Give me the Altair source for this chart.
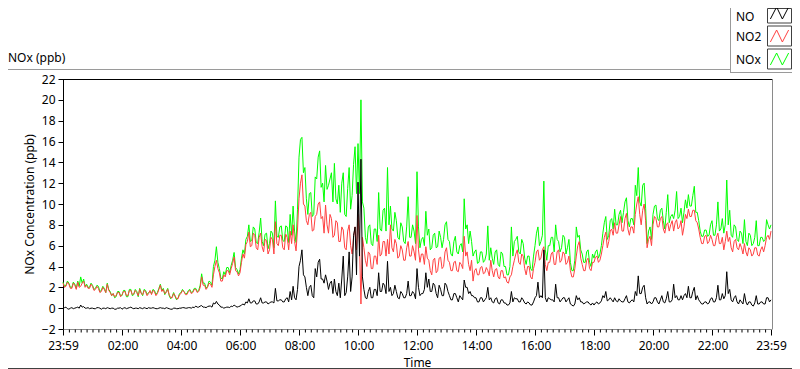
import altair as alt
import pandas as pd

# ---------------- data (one value every 3 minutes) -------------
STEP_H = 0.05  # hours between samples, starting at 23:59

NO2 = [
    2.4, 2.0, 2.1, 2.5, 2.3, 1.9, 1.9, 2.4, 2.2, 1.8, 2.5, 2.0, 2.1, 2.4, 2.6, 2.0, 2.2, 1.9, 1.9, 2.3,
    2.1, 1.7, 1.8, 2.1, 1.9, 1.5, 1.6, 2.0, 1.8, 1.5, 2.3, 1.7, 1.5, 1.2, 1.4, 1.1, 1.2, 1.5, 1.5, 1.1,
    1.3, 1.6, 1.6, 1.2, 1.2, 1.7, 1.7, 1.3, 1.4, 1.7, 1.5, 1.2, 1.8, 1.4, 1.3, 1.7, 1.6, 1.2, 1.4, 1.7,
    1.3, 1.7, 1.6, 1.2, 1.4, 1.8, 2.2, 1.6, 1.8, 1.4, 1.5, 1.8, 1.3, 1.0, 1.0, 1.4, 1.2, 0.9, 0.9, 1.3,
    1.4, 1.7, 1.6, 1.3, 1.3, 1.6, 1.7, 1.4, 1.5, 1.8, 1.8, 1.5, 1.6, 2.0, 3.0, 2.2, 2.2, 1.8, 2.0, 2.4,
    2.3, 2.0, 3.2, 4.0, 4.6, 3.8, 3.4, 2.6, 2.6, 3.2, 3.0, 3.6, 3.6, 3.2, 3.8, 4.3, 4.9, 3.6, 3.5, 3.1,
    3.4, 4.4, 5.2, 4.8, 6.1, 6.4, 7.3, 5.9, 6.0, 7.2, 7.0, 5.8, 5.6, 6.8, 7.2, 5.9, 5.4, 6.6, 6.5, 5.2,
    5.6, 6.8, 6.6, 5.2, 8.3, 6.2, 6.0, 7.0, 7.0, 5.8, 5.6, 7.1, 6.8, 5.6, 7.4, 6.2, 8.0, 6.4, 5.5, 7.6,
    10.5, 12.0, 12.8, 10.0, 9.8, 8.4, 8.0, 9.0, 9.2, 7.4, 7.5, 8.8, 9.0, 10.0, 10.2, 8.6, 8.8, 7.2, 9.9, 8.0,
    7.2, 9.0, 8.6, 6.8, 7.0, 8.4, 8.2, 6.4, 6.4, 7.8, 7.5, 5.8, 5.6, 7.4, 8.0, 6.0, 5.2, 6.8, 7.8, 5.6,
    9.0, 6.2, 0.4, 6.8, 5.8, 4.6, 4.0, 5.4, 5.2, 3.8, 3.8, 5.0, 5.0, 4.2, 7.0, 5.0, 5.2, 6.4, 6.4, 5.0,
    6.6, 5.2, 8.0, 5.8, 5.4, 6.6, 6.2, 4.8, 5.0, 6.0, 5.6, 4.6, 4.6, 5.8, 6.4, 5.0, 5.0, 6.0, 5.4, 4.6,
    8.9, 5.6, 4.4, 5.2, 5.2, 4.2, 5.9, 4.8, 4.6, 3.6, 3.2, 4.6, 4.8, 3.4, 3.6, 4.8, 4.9, 3.8, 4.0, 5.4,
    5.8, 4.6, 4.4, 3.6, 3.6, 4.4, 4.5, 3.6, 3.5, 4.4, 4.2, 3.8, 6.9, 5.0, 5.4, 4.2, 3.6, 4.6, 2.6, 3.6,
    3.8, 3.2, 3.2, 3.9, 4.0, 3.3, 3.4, 3.9, 3.6, 3.1, 4.6, 3.6, 3.0, 3.7, 3.8, 3.0, 2.8, 3.6, 3.6, 2.9,
    3.0, 2.5, 2.4, 3.0, 3.2, 4.0, 4.6, 5.2, 5.6, 4.4, 4.2, 5.2, 5.0, 3.8, 3.2, 4.0, 4.0, 3.0, 2.8, 3.8,
    4.4, 5.4, 5.6, 4.6, 4.8, 5.6, 5.9, 4.2, 3.6, 4.4, 4.4, 5.2, 5.4, 4.2, 4.2, 5.4, 5.6, 4.4, 4.6, 5.4,
    5.2, 4.2, 4.4, 5.0, 3.6, 3.0, 3.0, 3.8, 5.0, 6.0, 6.4, 4.8, 4.2, 3.6, 3.6, 4.6, 4.8, 3.8, 3.6, 4.4,
    4.4, 4.9, 5.0, 4.4, 4.6, 5.2, 6.0, 6.8, 7.3, 5.8, 6.4, 7.4, 7.6, 7.0, 8.2, 7.2, 7.2, 8.0, 8.8, 7.4,
    7.4, 8.6, 9.1, 7.6, 7.0, 7.8, 7.8, 7.2, 9.0, 10.0, 10.7, 9.0, 8.0, 9.4, 10.0, 8.4, 5.8, 6.6, 6.9, 6.0,
    8.0, 8.8, 8.6, 7.8, 7.8, 8.6, 8.8, 7.6, 7.2, 8.0, 8.2, 7.4, 8.0, 8.4, 7.4, 8.2, 8.5, 7.6, 7.8, 8.4,
    7.0, 7.8, 9.0, 8.6, 9.5, 8.8, 8.8, 9.4, 9.4, 8.4, 8.2, 7.6, 6.8, 6.2, 6.2, 6.9, 7.0, 6.2, 6.4, 7.0,
    6.6, 6.0, 6.0, 6.8, 7.2, 6.2, 6.2, 6.8, 5.6, 6.4, 7.4, 6.4, 6.8, 5.8, 5.4, 6.4, 6.6, 5.8, 5.6, 6.2,
    5.8, 5.2, 6.2, 5.4, 5.0, 5.8, 5.6, 5.0, 5.2, 5.8, 5.8, 5.1, 5.0, 5.6, 5.9, 5.4, 6.0, 6.8, 7.0, 6.6, 7.4,
]

NOX = [
    2.5, 2.1, 2.2, 2.6, 2.4, 2.0, 2.0, 2.5, 2.3, 1.9, 2.6, 2.1, 3.0, 2.4, 2.8, 2.1, 2.3, 2.0, 2.0, 2.4,
    2.2, 1.8, 1.9, 2.2, 2.1, 1.6, 1.7, 2.1, 1.9, 1.5, 2.4, 1.8, 1.6, 1.2, 1.4, 1.0, 1.1, 1.6, 1.6, 1.2,
    1.2, 1.7, 1.7, 1.1, 1.1, 1.8, 1.8, 1.2, 1.3, 1.8, 1.6, 1.1, 1.9, 1.5, 1.2, 1.8, 1.7, 1.3, 1.5, 1.6,
    1.4, 1.8, 1.7, 1.3, 1.5, 1.9, 2.3, 1.7, 1.9, 1.3, 1.6, 1.9, 1.2, 0.9, 1.1, 1.5, 1.1, 0.8, 1.0, 1.4,
    1.5, 1.8, 1.6, 1.4, 1.4, 1.7, 1.8, 1.5, 1.6, 1.9, 1.9, 1.6, 1.7, 2.2, 3.3, 2.4, 2.4, 1.9, 2.1, 2.6,
    2.5, 2.2, 4.0, 4.6, 5.9, 4.4, 3.8, 2.9, 2.8, 3.5, 3.2, 3.9, 3.9, 3.4, 4.1, 4.6, 5.35, 3.9, 3.7, 3.3,
    3.7, 4.8, 5.6, 5.2, 6.6, 6.9, 8.0, 6.4, 6.5, 7.8, 7.6, 6.3, 6.2, 7.3, 8.65, 6.4, 6.0, 7.1, 7.2, 5.7,
    6.2, 7.4, 7.2, 5.8, 10.3, 6.9, 6.8, 7.8, 7.9, 6.5, 6.4, 7.9, 7.8, 6.3, 9.0, 7.0, 9.8, 7.4, 6.3, 9.5,
    14.5, 16.2, 16.4, 13.0, 13.5, 10.5, 9.0, 11.0, 11.1, 8.8, 9.0, 12.6, 12.4, 14.5, 15.1, 11.6, 12.0, 10.2, 13.7, 11.4,
    11.8, 12.4, 13.0, 10.2, 13.9, 10.5, 10.0, 11.8, 9.2, 12.0, 13.0, 9.0, 8.8, 11.5, 13.5, 9.5, 10.8, 13.8, 15.5, 11.0,
    15.8, 11.0, 20.0, 10.2, 9.6, 6.8, 6.2, 7.8, 8.0, 6.2, 6.0, 7.6, 7.6, 6.4, 11.1, 7.6, 7.4, 9.4, 9.6, 7.4,
    13.5, 8.0, 9.8, 7.6, 7.4, 9.2, 8.4, 6.8, 6.6, 8.2, 7.8, 6.4, 6.2, 7.8, 10.7, 6.8, 6.8, 8.0, 7.4, 6.2,
    13.1, 7.8, 5.8, 6.6, 6.8, 6.0, 9.3, 7.0, 7.6, 5.6, 5.8, 7.0, 7.2, 5.8, 5.9, 7.4, 6.8, 5.8, 6.6, 8.0,
    8.3, 6.6, 6.4, 5.2, 5.0, 6.4, 6.9, 5.4, 5.2, 6.0, 6.2, 5.4, 10.5, 7.6, 8.0, 6.2, 7.4, 6.4, 5.0, 5.4,
    5.6, 4.3, 4.4, 5.4, 5.4, 4.4, 4.6, 5.2, 7.9, 4.6, 5.8, 4.8, 4.2, 5.4, 5.6, 4.2, 4.0, 5.4, 5.2, 4.0,
    4.0, 3.2, 3.2, 4.0, 7.8, 5.0, 6.4, 6.6, 6.9, 5.4, 5.2, 6.6, 6.2, 4.8, 4.2, 5.0, 5.0, 3.8, 3.6, 5.0,
    6.0, 7.2, 7.8, 6.0, 6.4, 7.0, 12.2, 5.6, 4.6, 6.0, 6.0, 6.8, 6.8, 5.4, 8.0, 6.6, 6.4, 5.4, 5.8, 7.0,
    6.8, 5.2, 5.8, 6.6, 4.4, 3.6, 3.6, 4.6, 7.8, 6.8, 7.0, 5.6, 5.2, 4.4, 4.4, 5.4, 5.6, 4.4, 4.0, 5.2,
    4.8, 5.4, 5.6, 4.8, 5.2, 6.0, 7.2, 8.2, 8.8, 6.6, 7.0, 8.4, 8.6, 7.6, 9.5, 8.0, 8.0, 9.0, 9.4, 8.2,
    9.2, 10.2, 10.6, 8.4, 7.8, 8.6, 8.6, 8.0, 11.8, 10.8, 13.5, 10.2, 9.8, 11.8, 12.0, 9.6, 6.2, 7.4, 7.8, 6.6,
    9.0, 9.8, 9.9, 8.6, 8.4, 9.4, 9.6, 8.4, 7.6, 9.2, 10.9, 8.2, 8.8, 9.0, 8.6, 9.4, 11.2, 8.6, 8.8, 9.6,
    8.2, 9.2, 10.4, 9.6, 10.9, 9.8, 9.8, 10.8, 11.7, 9.2, 9.2, 8.4, 7.4, 6.9, 6.9, 7.5, 7.5, 6.9, 7.0, 8.0,
    8.4, 7.0, 7.0, 8.0, 10.2, 7.4, 7.6, 8.6, 7.2, 8.0, 12.3, 8.0, 9.4, 7.0, 6.8, 8.0, 7.8, 6.6, 6.4, 7.4,
    7.2, 6.2, 8.5, 6.4, 6.0, 7.2, 7.0, 6.0, 6.2, 6.8, 8.4, 6.0, 6.0, 6.8, 6.8, 6.4, 6.6, 8.5, 8.0, 7.6, 8.0,
]

NO = [
    0.0, 0.05, 0.1, -0.05, -0.1, 0.0, 0.05, -0.05, 0.0, 0.05, 0.1, 0.0, 0.3, 0.1, 0.15, 0.0, 0.0, 0.05, -0.05, 0.0,
    0.0, -0.05, -0.05, 0.05, 0.05, 0.0, -0.1, 0.0, 0.0, -0.05, 0.05, 0.0, -0.05, 0.0, 0.0, -0.1, -0.1, 0.0, 0.0, 0.05,
    -0.1, 0.0, 0.05, -0.05, 0.0, 0.05, 0.1, 0.0, -0.05, 0.0, 0.0, -0.05, 0.05, 0.0, -0.05, 0.05, 0.0, -0.05, 0.05, 0.0,
    0.0, 0.05, 0.0, -0.05, -0.05, 0.0, 0.05, 0.0, 0.0, -0.05, 0.05, 0.0, -0.05, -0.1, -0.1, 0.0, 0.0, -0.05, -0.05, 0.0,
    0.0, 0.05, 0.05, 0.0, 0.0, 0.05, 0.05, 0.0, 0.1, 0.05, 0.2, 0.1, 0.1, 0.2, 0.25, 0.1, 0.1, 0.05, 0.15, 0.2,
    0.2, 0.1, 0.5, 0.4, 0.65, 0.4, 0.3, 0.1, 0.1, 0.0, 0.05, 0.1, 0.1, 0.05, 0.2, 0.15, 0.3, 0.2, 0.1, 0.15,
    0.2, 0.3, 0.4, 0.3, 0.6, 0.5, 0.9, 0.5, 0.5, 0.7, 0.7, 0.4, 0.4, 0.6, 1.0, 0.5, 0.5, 0.6, 0.6, 0.4,
    0.5, 0.6, 0.6, 0.5, 1.9, 0.7, 0.7, 0.8, 0.8, 0.6, 0.6, 0.9, 1.0, 0.6, 1.6, 0.8, 2.1, 1.0, 0.8, 1.8,
    4.0, 4.6, 5.6, 3.2, 3.0, 2.0, 1.2, 2.0, 2.2, 1.2, 1.0, 3.8, 3.0, 4.4, 4.7, 2.8, 2.8, 2.4, 3.2, 2.6,
    1.8, 2.4, 2.6, 1.4, 2.8, 1.6, 1.2, 2.4, 1.0, 2.8, 5.0, 1.2, 1.5, 3.0, 5.4, 1.6, 3.0, 7.0, 7.8, 3.2,
    12.1, 5.0, 14.3, 3.0, 1.8, 1.0, 0.9, 1.6, 2.0, 1.0, 1.0, 1.8, 1.8, 1.2, 3.4, 1.6, 1.6, 2.4, 2.2, 1.4,
    4.5, 1.6, 2.0, 1.2, 1.4, 2.2, 1.6, 1.0, 0.9, 1.6, 1.4, 1.0, 1.0, 1.4, 2.6, 1.2, 1.2, 1.6, 1.4, 0.9,
    3.8, 2.0, 1.2, 1.4, 1.4, 1.8, 3.4, 2.0, 2.8, 1.6, 1.6, 2.4, 2.2, 1.4, 1.0, 2.2, 1.8, 1.2, 1.2, 2.4,
    2.2, 1.6, 1.2, 0.8, 0.8, 1.4, 1.4, 1.0, 0.6, 1.2, 1.0, 0.8, 2.7, 2.0, 2.0, 1.4, 1.6, 1.2, 1.2, 1.0,
    1.0, 0.6, 0.6, 1.0, 1.0, 0.6, 0.8, 1.0, 2.0, 0.8, 1.0, 0.6, 0.5, 0.9, 1.0, 0.5, 0.4, 0.8, 0.8, 0.5,
    0.5, 0.3, 0.3, 0.5, 1.6, 0.6, 1.0, 0.9, 0.9, 0.6, 0.6, 1.0, 0.8, 0.5, 0.4, 0.6, 0.5, 0.3, 0.3, 0.6,
    1.0, 1.2, 2.5, 1.0, 1.2, 1.0, 5.6, 1.0, 0.6, 1.0, 0.9, 0.8, 0.8, 0.6, 2.3, 1.0, 1.0, 0.6, 0.8, 1.0,
    1.0, 0.6, 0.8, 1.0, 0.4, 0.3, 0.2, 0.4, 1.2, 0.8, 1.0, 0.6, 0.6, 0.4, 0.5, 0.6, 0.6, 0.4, 0.3, 0.5,
    0.3, 0.5, 0.6, 0.4, 0.5, 0.7, 1.2, 1.0, 1.6, 0.7, 0.8, 1.0, 0.8, 0.6, 1.0, 0.7, 0.6, 0.9, 0.7, 0.6,
    0.6, 0.9, 1.2, 0.6, 0.5, 0.7, 0.8, 0.6, 1.6, 1.2, 3.1, 1.4, 1.4, 2.0, 2.2, 1.0, 0.4, 0.6, 0.6, 0.4,
    0.6, 1.0, 1.0, 0.6, 0.4, 0.8, 1.2, 0.6, 0.5, 0.9, 1.6, 0.6, 0.6, 0.8, 2.3, 1.0, 1.2, 0.8, 0.8, 1.2,
    0.8, 1.2, 1.4, 1.0, 2.1, 1.0, 1.0, 1.6, 2.0, 0.8, 1.2, 0.8, 0.6, 0.4, 0.4, 0.6, 0.6, 0.4, 0.5, 0.9,
    1.0, 0.6, 0.6, 1.0, 2.2, 0.8, 0.8, 1.4, 0.9, 1.2, 3.5, 1.4, 1.8, 0.8, 0.6, 1.0, 1.2, 0.6, 0.4, 0.8,
    0.6, 0.4, 1.4, 0.6, 0.3, 0.6, 0.6, 0.3, 0.2, 0.5, 1.2, 0.4, 0.4, 0.6, 0.6, 0.4, 0.4, 1.0, 1.0, 0.6, 0.8,
]

HOURS = [round(i * STEP_H, 2) for i in range(len(NO))]

SERIES = ["NO", "NO2", "NOx"]
COLORS = ["#000000", "#ff4040", "#00ff00"]

Y_TICKS = [-2, 0, 2, 4, 6, 8, 10, 12, 14, 16, 18, 20, 22]
# axis positions in hours after 23:59 (labels 23:59, 02:00 ... 22:00, 23:59)
X_MAJOR = [0.0] + [(120 * k + 1) / 60 for k in range(1, 12)] + [24.0]
X_MINOR = [(12 * k + 1) / 60 for k in range(1, 120) if k % 10 != 0]

FONT = "Noto Sans"
W, H = 708, 250

df = pd.DataFrame({"h": HOURS, "NO": NO, "NO2": NO2, "NOx": NOX})

label_expr = (
    "pad(floor(((round(datum.value*60)+1439)%1440)/60)+'',2,'0','left')"
    " + ':' + pad(((round(datum.value*60)+1439)%60)+'',2,'0','left')"
)

x_axis = alt.Axis(
    values=X_MAJOR, labelExpr=label_expr, tickSize=6, tickColor="#000000",
    domainColor="#8a8a8a", grid=False, labelFont=FONT, labelFontSize=12,
    labelColor="#000000", labelPadding=5, labelFlush=False, labelOverlap=False,
    title="Time", titleFont=FONT, titleFontSize=12, titleFontWeight="normal",
    titleColor="#000000", titlePadding=6,
)
y_axis = alt.Axis(
    values=Y_TICKS, tickSize=5, tickColor="#000000", domainColor="#000000",
    grid=False, labelFont=FONT, labelFontSize=12, labelColor="#000000",
    labelPadding=3, title="NOx Concentration (ppb)", titleFont=FONT,
    titleFontSize=12, titleFontWeight="normal", titleColor="#000000",
    titlePadding=5,
)
x_scale = alt.Scale(domain=[0, 24], nice=False, zero=False)
y_scale = alt.Scale(domain=[-2, 22], nice=False, zero=False)


def xenc(field):
    return alt.X(field, scale=x_scale, axis=x_axis)


def yenc(field):
    return alt.Y(field, scale=y_scale, axis=y_axis)


base = alt.Chart(df)
layers = []
for name, col in zip(reversed(SERIES), reversed(COLORS)):
    layers.append(
        base.mark_line(color=col, strokeWidth=1, interpolate="linear").encode(
            x=xenc("h:Q"), y=yenc(f"{name}:Q")
        )
    )

# minor ticks on the time axis
minor_df = pd.DataFrame({"m": X_MINOR})
layers.append(
    alt.Chart(minor_df).mark_rule(color="#000000", strokeWidth=1).encode(
        x=xenc("m:Q"), y=alt.value(H + 0.5), y2=alt.value(H + 3.5)
    )
)

# frame lines (plot border + panel frame), pixel coordinates relative to plot origin
frame_df = pd.DataFrame({
    "x":  [0, 709.5, -55, -55, 667.5, 667.5],
    "x2": [709.5, 709.5, 667.5, 729, 667.5, 729],
    "y":  [0.5, 0.5, -9.5, 289.5, -71, -6.5],
    "y2": [0.5, 250.5, -9.5, 289.5, -6, -6.5],
    "c":  ["#000000", "#8a8a8a", "#9a9a9a", "#404040", "#9a9a9a", "#9a9a9a"],
})
layers.append(
    alt.Chart(frame_df).mark_rule(strokeWidth=1).encode(
        x=alt.X("x:Q", scale=None, axis=None), x2="x2:Q",
        y=alt.Y("y:Q", scale=None, axis=None), y2="y2:Q",
        color=alt.Color("c:N", scale=None, legend=None),
    )
)

# panel title
layers.append(
    alt.Chart(pd.DataFrame({"t": ["NOx (ppb)"]})).mark_text(
        align="left", baseline="middle", font=FONT, fontSize=12, color="#000000"
    ).encode(x=alt.value(-55), y=alt.value(-21), text="t:N")
)

# legend (label on the left, line sample in a small box on the right)
LEG_TEXT_Y = [-62, -42, -19]
leg_rows = []
box_rows = []
zig_rows = []
for i, (name, col) in enumerate(zip(SERIES, COLORS)):
    top = -76 + 23 * i
    leg_rows.append({"name": name, "tx": 673, "ty": LEG_TEXT_Y[i]})
    box_rows.append({"name": name, "bx": 704.5, "bx2": 728.5,
                     "by": max(top, -70.5), "by2": top + 20})
    for j, (fx, fy) in enumerate([(0.12, 0.8), (0.38, 0.2), (0.62, 0.8), (0.88, 0.2)]):
        zig_rows.append({"name": name, "col": col, "i": j,
                         "zx": 704.5 + 24 * fx, "zy": top + 20 * fy})

layers.append(
    alt.Chart(pd.DataFrame(box_rows)).mark_rect(
        fill="#ffffff", stroke="#404040", strokeWidth=1
    ).encode(
        x=alt.X("bx:Q", scale=None, axis=None), x2="bx2:Q",
        y=alt.Y("by:Q", scale=None, axis=None), y2="by2:Q",
    )
)
layers.append(
    alt.Chart(pd.DataFrame(zig_rows)).mark_line(strokeWidth=1).encode(
        x=alt.X("zx:Q", scale=None, axis=None),
        y=alt.Y("zy:Q", scale=None, axis=None),
        detail="name:N", order="i:Q",
        color=alt.Color("col:N", scale=None, legend=None),
    )
)
layers.append(
    alt.Chart(pd.DataFrame(leg_rows)).mark_text(
        align="left", baseline="middle", font=FONT, fontSize=12, color="#000000"
    ).encode(
        x=alt.X("tx:Q", scale=None, axis=None),
        y=alt.Y("ty:Q", scale=None, axis=None),
        text="name:N",
    )
)

chart = alt.layer(*layers).properties(
    width=W, height=H,
    autosize=alt.AutoSizeParams(type="none"),
    padding={"left": 55, "top": 71, "right": 21, "bottom": 40},
    background="#ffffff",
).configure_view(stroke=None)

chart.save("out.html", embed_options={"renderer": "svg", "actions": False})
